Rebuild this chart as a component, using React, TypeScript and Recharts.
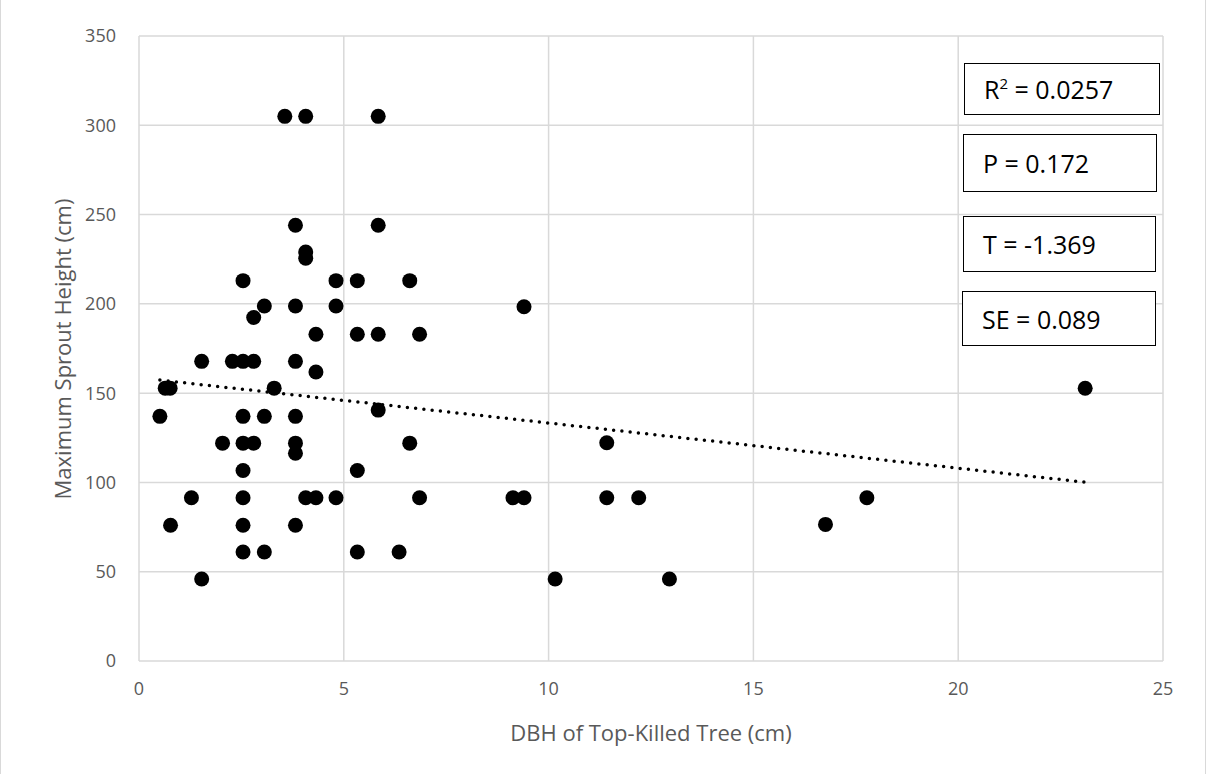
import React from "react";
import {
  ScatterChart,
  Scatter,
  XAxis,
  YAxis,
  CartesianGrid,
} from "recharts";

// DBH of top-killed tree (cm)
const dbh = [
  0.51, 0.64, 0.76, 0.77, 1.28, 1.53, 1.53, 2.04, 2.28, 2.54, 2.54, 2.54, 2.54,
  2.54, 2.54, 2.54, 2.54, 2.8, 2.8, 2.8, 3.06, 3.06, 3.06, 3.3, 3.56, 3.82, 3.82,
  3.82, 3.82, 3.82, 3.82, 3.82, 4.07, 4.07, 4.07, 4.07, 4.32, 4.32, 4.32, 4.81,
  4.81, 4.81, 5.33, 5.33, 5.33, 5.33, 5.84, 5.84, 5.84, 5.84, 6.35, 6.61, 6.61,
  6.85, 6.85, 9.13, 9.4, 9.4, 10.16, 11.42, 11.42, 12.2, 12.95, 16.76, 17.77, 23.1,
];

// maximum sprout height (cm), same order as dbh
const sproutHeight = [
  137, 152.8, 152.8, 76, 91.4, 167.8, 45.9, 122, 167.8, 213, 167.8, 137, 122,
  106.7, 91.4, 76, 61, 192.4, 167.8, 122, 198.8, 137, 61, 152.8, 305, 244, 198.8,
  167.8, 137, 122, 116.3, 76, 305, 229, 225.5, 91.4, 183, 161.8, 91.4, 213,
  198.8, 91.4, 213, 183, 106.7, 61, 305, 244, 183, 140.5, 61, 213, 122,
  183, 91.4, 91.4, 198.4, 91.4, 45.9, 122.2, 91.4, 91.4, 45.9, 76.5, 91.4, 152.7,
];

// linear trendline end points
const trendX = [0.51, 23.1];
const trendY = [157.3, 100.1];

const xTicks = [0, 5, 10, 15, 20, 25];
const yTicks = [0, 50, 100, 150, 200, 250, 300, 350];

const stats = ["R2 = 0.0257", "P = 0.172", "T = -1.369", "SE = 0.089"];

const points = dbh.map((x, i) => ({ x, y: sproutHeight[i] }));
const trend = trendX.map((x, i) => ({ x, y: trendY[i] }));

const FONT = "'Open Sans', sans-serif";
const GREY = "#595959";

const dotShape = (props: any) => {
  const { cx, cy } = props;
  return <circle cx={cx} cy={cy} r={7.5} fill="#000" />;
};

const boxPos = [
  { left: 964, top: 63, width: 196, height: 52 },
  { left: 963, top: 134, width: 194, height: 58 },
  { left: 963, top: 216, width: 193, height: 56 },
  { left: 962, top: 291, width: 194, height: 55 },
];

export default function App() {
  return (
    <div
      style={{
        position: "absolute",
        left: 0,
        top: 0,
        width: 1206,
        height: 774,
        background: "#fff",
        fontFamily: FONT,
      }}
    >
      <div
        style={{
          position: "absolute",
          left: 0,
          top: 0,
          width: 1204,
          height: 774,
          borderRight: "1px solid #d9d9d9",
          borderLeft: "1px solid #d9d9d9",
        }}
      />
      <ScatterChart
        width={1206}
        height={774}
        margin={{ top: 36, right: 43, bottom: 83, left: 80 }}
        style={{ position: "absolute", left: 0, top: 0 }}
      >
        <CartesianGrid stroke="#d9d9d9" strokeWidth={1.5} />
        <XAxis
          type="number"
          dataKey="x"
          domain={[0, 25]}
          ticks={xTicks}
          height={30}
          axisLine={false}
          tickLine={false}
          tickSize={0}
          tickMargin={21}
          tick={{ fill: GREY, fontSize: 18, fontFamily: FONT }}
        />
        <YAxis
          type="number"
          dataKey="y"
          domain={[0, 350]}
          ticks={yTicks}
          width={59}
          axisLine={false}
          tickLine={false}
          tickSize={0}
          tickMargin={23}
          tick={{ fill: GREY, fontSize: 18, fontFamily: FONT }}
        />
        <Scatter
          data={trend}
          line={{
            stroke: "#000",
            strokeWidth: 3.5,
            strokeDasharray: "0 8.3",
            strokeLinecap: "round",
          }}
          shape={() => null}
          isAnimationActive={false}
        />
        <Scatter data={points} shape={dotShape} isAnimationActive={false} />
      </ScatterChart>

      {/* axis titles */}
      <div
        style={{
          position: "absolute",
          left: 351,
          width: 600,
          top: 718,
          textAlign: "center",
          fontSize: 22,
          color: GREY,
          lineHeight: "28px",
        }}
      >
        DBH of Top-Killed Tree (cm)
      </div>
      <div
        style={{
          position: "absolute",
          left: 62 - 300,
          top: 349 - 14,
          width: 600,
          textAlign: "center",
          fontSize: 22,
          color: GREY,
          lineHeight: "28px",
          transform: "rotate(-90deg)",
        }}
      >
        Maximum Sprout Height (cm)
      </div>

      {/* statistics boxes */}
      {stats.map((s, i) => {
        const p = boxPos[i];
        const isR2 = s.startsWith("R2");
        return (
          <div
            key={s}
            style={{
              position: "absolute",
              left: p.left,
              top: p.top,
              width: p.width,
              height: p.height,
              boxSizing: "border-box",
              border: i === 3 ? "1.5px solid #000" : "1px solid #000",
              background: "#fff",
              display: "flex",
              alignItems: "center",
              paddingLeft: 19,
              fontSize: 25,
              color: "#000",
            }}
          >
            {isR2 ? (
              <span>
                R<sup style={{ fontSize: 15, verticalAlign: "10px", lineHeight: 0 }}>2</sup>
                {s.slice(2)}
              </span>
            ) : (
              s
            )}
          </div>
        );
      })}
    </div>
  );
}
